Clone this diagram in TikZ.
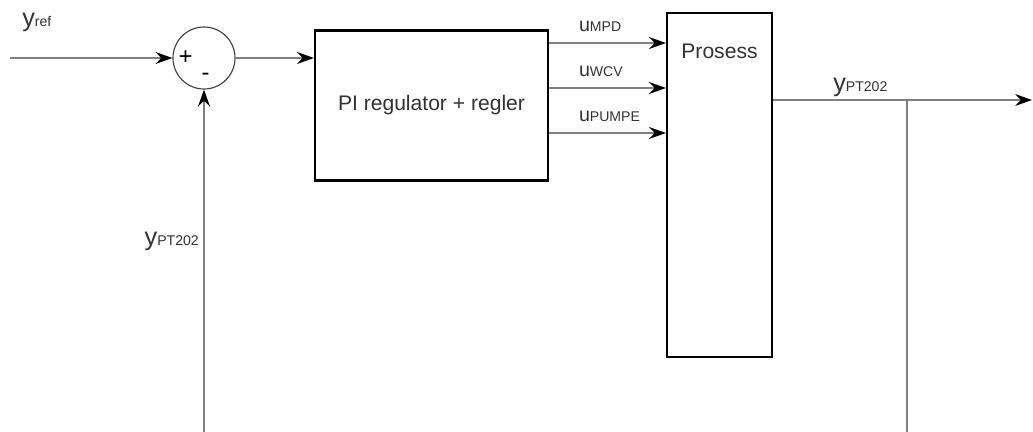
\documentclass[tikz,border=0pt]{standalone}
\usepackage{fontspec}
\setmainfont{Liberation Sans}
\usetikzlibrary{arrows.meta, positioning, calc}

\tikzset{
    blk/.style={draw=black, line width=1.5pt, fill=white, inner sep=0pt},
    sumnode/.style={circle, draw=black!75, line width=0.8pt, minimum size=1.55cm, inner sep=0pt},
    wire/.style={draw=black!50, line width=1pt},
    sig/.style={wire, -{Stealth[length=12pt, width=8.5pt, inset=4pt, black]}},
    lab/.style={text=black!80, font=\fontsize{15}{17}\selectfont, inner sep=0pt},
    sgn/.style={text=black, font=\fontsize{17}{19}\selectfont, inner sep=0pt},
}
% signal name with small upright index
\newcommand{\lbl}[3]{{\fontsize{#1}{20}\selectfont #2}{\fontsize{10}{12}\selectfont #3}}

\begin{document}
\begin{tikzpicture}[x=0.025cm, y=-0.025cm]
    \useasboundingbox (0,0) rectangle (1033,432);

    % blocks
    \node [sumnode] (sum) at (204,58) {};
    \node [sgn] (plus) at ($(sum)+(-18.5,0)$) {+};
    \node [sgn] (minus) at ($(sum)+(1.5,19)$) {-};
    \node [blk, minimum width=5.825cm, minimum height=3.75cm] (pi) at (431.5,105.5) {};
    \node [lab] (pi_txt) at (pi) {PI regulator + regler};
    \node [blk, minimum width=2.625cm, minimum height=8.6cm] (proc) at (719.5,185) {};
    \node [lab, anchor=base] (proc_txt) at ($(proc.north)+(0,47)$) {Prosess};

    % free ends
    \coordinate (in) at (10,58);
    \coordinate (fb_l) at (204,432);
    \coordinate (br) at (907,100);
    \coordinate (fb_r) at (907,432);
    \coordinate (out) at (1032,100);

    \node [lab, anchor=base west] (yref) at (22,27) {\lbl{18}{y}{ref}};

    % signals
    \draw [sig] (in) -- (sum);
    \draw [sig] (sum) -- (pi.west |- sum);
    \draw [sig] (fb_l) -- (sum);
    \draw [sig] (pi.east |- 0,43) -- (proc.west |- 0,43)
        node [lab, anchor=base west, pos=0.25, yshift=8pt] (u1) {\lbl{14}{u}{MPD}};
    \draw [sig] (pi.east |- 0,88) -- (proc.west |- 0,88)
        node [lab, anchor=base west, pos=0.25, yshift=8pt] (u2) {\lbl{14}{u}{WCV}};
    \draw [sig] (pi.east |- 0,133) -- (proc.west |- 0,133)
        node [lab, anchor=base west, pos=0.25, yshift=8pt] (u3) {\lbl{14}{u}{PUMPE}};
    \draw [sig] (proc.east |- out) -- (out);
    \draw [wire] (br) -- (fb_r);

    \node [lab, anchor=base west] (y_r) at (833,92) {\lbl{18}{y}{PT202}};
    \node [lab, anchor=base east] (y_l) at (199,246) {\lbl{18}{y}{PT202}};
\end{tikzpicture}
\end{document}
